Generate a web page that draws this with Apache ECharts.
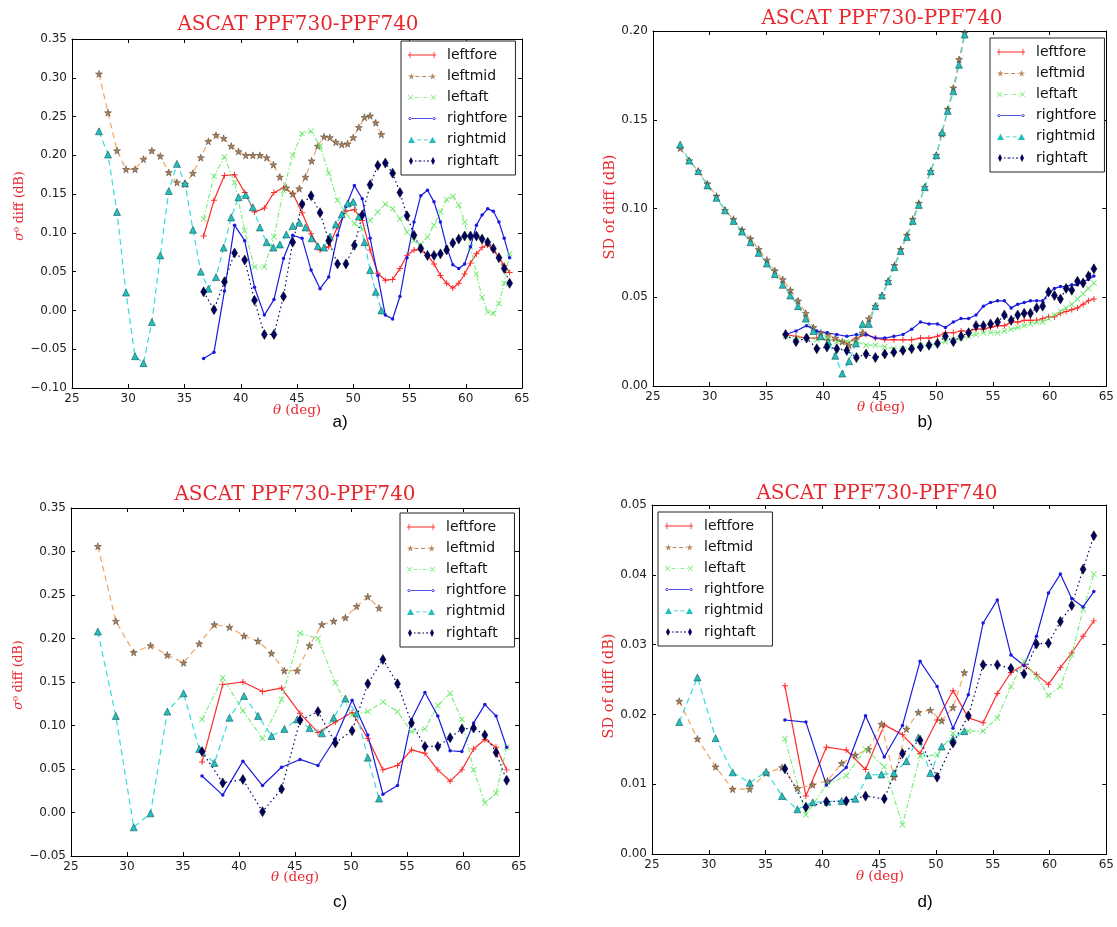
<!DOCTYPE html>
<html><head><meta charset="utf-8">
<script src="https://cdn.jsdelivr.net/npm/echarts@6/dist/echarts.min.js"></script>
<style>html,body{margin:0;padding:0;background:#fff}#c{width:1117px;height:927px}</style>
</head><body><div id="c"></div>
<script>
// ---- incidence-angle grids (deg) ----
const midX41 = [27.4, 28.2, 29.0, 29.8, 30.6, 31.35, 32.1, 32.85, 33.6, 34.33, 35.05, 35.75, 36.45, 37.12, 37.8, 38.48, 39.15, 39.8, 40.45, 41.08, 41.7, 42.3, 42.9, 43.48, 44.05, 44.62, 45.2, 45.75, 46.3, 46.85, 47.4, 47.92, 48.45, 48.98, 49.5, 50.0, 50.5, 51.0, 51.5, 52.0, 52.5];
const foreX41 = [36.7, 37.62, 38.55, 39.45, 40.35, 41.22, 42.1, 42.95, 43.8, 44.62, 45.45, 46.25, 47.05, 47.82, 48.6, 49.35, 50.1, 50.8, 51.5, 52.18, 52.85, 53.5, 54.15, 54.78, 55.4, 56.0, 56.6, 57.18, 57.75, 58.3, 58.85, 59.38, 59.9, 60.42, 60.95, 61.45, 61.95, 62.45, 62.95, 63.42, 63.9];
const midX21 = [27.4, 29.0, 30.6, 32.1, 33.6, 35.05, 36.45, 37.8, 39.15, 40.45, 41.7, 42.9, 44.05, 45.2, 46.3, 47.4, 48.45, 49.5, 50.5, 51.5, 52.5];
const foreX21 = [36.7, 38.55, 40.35, 42.1, 43.8, 45.45, 47.05, 48.6, 50.1, 51.5, 52.85, 54.15, 55.4, 56.6, 57.75, 58.85, 59.9, 60.95, 61.95, 62.95, 63.9];

// ---- panel a : sigma0 diff ----
const a_leftfore = [0.096, 0.142, 0.174, 0.175, 0.152, 0.127, 0.132, 0.152, 0.158, 0.151, 0.126, 0.099, 0.078, 0.082, 0.108, 0.128, 0.130, 0.116, 0.078, 0.048, 0.039, 0.040, 0.054, 0.071, 0.078, 0.078, 0.071, 0.060, 0.045, 0.035, 0.029, 0.035, 0.047, 0.061, 0.073, 0.081, 0.085, 0.078, 0.068, 0.058, 0.049];
const a_leftmid = [0.305, 0.255, 0.206, 0.182, 0.182, 0.195, 0.206, 0.199, 0.178, 0.165, 0.163, 0.177, 0.197, 0.218, 0.226, 0.222, 0.212, 0.205, 0.200, 0.200, 0.200, 0.197, 0.188, 0.172, 0.158, 0.150, 0.157, 0.172, 0.193, 0.212, 0.224, 0.223, 0.217, 0.214, 0.215, 0.223, 0.236, 0.249, 0.251, 0.242, 0.227];
const a_leftaft = [0.118, 0.173, 0.198, 0.165, 0.103, 0.056, 0.056, 0.095, 0.155, 0.200, 0.228, 0.231, 0.212, 0.177, 0.142, 0.125, 0.112, 0.105, 0.116, 0.127, 0.137, 0.131, 0.118, 0.101, 0.090, 0.085, 0.095, 0.110, 0.127, 0.143, 0.147, 0.136, 0.114, 0.082, 0.047, 0.017, -0.002, -0.004, 0.009, 0.035, 0.073];
const a_rightfore = [-0.062, -0.054, 0.025, 0.110, 0.090, 0.030, -0.006, 0.014, 0.067, 0.097, 0.093, 0.052, 0.028, 0.043, 0.097, 0.134, 0.161, 0.144, 0.093, 0.045, -0.006, -0.011, 0.018, 0.068, 0.114, 0.148, 0.155, 0.140, 0.114, 0.082, 0.059, 0.054, 0.060, 0.082, 0.110, 0.123, 0.131, 0.128, 0.114, 0.093, 0.068];
const a_rightmid = [0.231, 0.201, 0.127, 0.023, -0.059, -0.068, -0.015, 0.071, 0.154, 0.189, 0.164, 0.104, 0.050, 0.028, 0.043, 0.081, 0.120, 0.146, 0.149, 0.133, 0.107, 0.088, 0.081, 0.085, 0.098, 0.109, 0.113, 0.107, 0.093, 0.083, 0.081, 0.095, 0.111, 0.124, 0.138, 0.140, 0.121, 0.088, 0.052, 0.024, 0.000];
const a_rightaft = [0.024, 0.001, 0.037, 0.074, 0.065, 0.013, -0.031, -0.031, 0.018, 0.088, 0.137, 0.148, 0.126, 0.090, 0.060, 0.060, 0.084, 0.123, 0.162, 0.187, 0.190, 0.177, 0.152, 0.122, 0.097, 0.080, 0.071, 0.071, 0.073, 0.078, 0.087, 0.092, 0.096, 0.096, 0.096, 0.092, 0.088, 0.080, 0.068, 0.054, 0.035];

// ---- panel b : SD of diff ----
const b_leftfore = [0.029, 0.028, 0.027, 0.027, 0.026, 0.026, 0.024, 0.027, 0.029, 0.027, 0.026, 0.026, 0.026, 0.026, 0.027, 0.027, 0.028, 0.030, 0.030, 0.031, 0.031, 0.032, 0.032, 0.033, 0.034, 0.034, 0.036, 0.036, 0.037, 0.037, 0.037, 0.038, 0.039, 0.039, 0.041, 0.042, 0.043, 0.044, 0.046, 0.048, 0.049];
const b_leftmid = [0.134, 0.127, 0.121, 0.114, 0.107, 0.099, 0.094, 0.088, 0.083, 0.077, 0.071, 0.065, 0.060, 0.054, 0.048, 0.041, 0.033, 0.030, 0.029, 0.027, 0.025, 0.023, 0.026, 0.030, 0.038, 0.045, 0.051, 0.059, 0.068, 0.077, 0.085, 0.094, 0.103, 0.112, 0.121, 0.130, 0.142, 0.156, 0.168, 0.184, 0.199];
const b_leftaft = [0.028, 0.027, 0.027, 0.026, 0.027, 0.025, 0.025, 0.025, 0.023, 0.023, 0.022, 0.021, 0.021, 0.022, 0.023, 0.023, 0.024, 0.025, 0.026, 0.027, 0.028, 0.029, 0.030, 0.030, 0.030, 0.031, 0.032, 0.033, 0.034, 0.035, 0.036, 0.036, 0.038, 0.040, 0.042, 0.044, 0.046, 0.049, 0.052, 0.055, 0.058];
const b_rightfore = [0.029, 0.031, 0.034, 0.031, 0.030, 0.029, 0.028, 0.029, 0.029, 0.027, 0.027, 0.028, 0.029, 0.032, 0.036, 0.035, 0.035, 0.033, 0.036, 0.038, 0.038, 0.040, 0.045, 0.047, 0.048, 0.048, 0.044, 0.046, 0.047, 0.048, 0.048, 0.048, 0.052, 0.055, 0.056, 0.056, 0.057, 0.057, 0.059, 0.060, 0.062];
const b_rightmid = [0.136, 0.127, 0.121, 0.113, 0.106, 0.099, 0.093, 0.087, 0.081, 0.075, 0.069, 0.063, 0.057, 0.051, 0.045, 0.038, 0.031, 0.028, 0.025, 0.017, 0.007, 0.014, 0.024, 0.035, 0.035, 0.045, 0.051, 0.059, 0.067, 0.076, 0.084, 0.093, 0.102, 0.112, 0.121, 0.130, 0.143, 0.155, 0.166, 0.181, 0.198];
const b_rightaft = [0.029, 0.025, 0.027, 0.021, 0.022, 0.021, 0.020, 0.016, 0.018, 0.016, 0.018, 0.019, 0.020, 0.021, 0.022, 0.023, 0.024, 0.028, 0.025, 0.028, 0.030, 0.034, 0.034, 0.035, 0.036, 0.040, 0.037, 0.040, 0.041, 0.041, 0.044, 0.045, 0.053, 0.051, 0.049, 0.055, 0.054, 0.059, 0.058, 0.062, 0.066];

// ---- panel c : sigma0 diff (coarse grid) ----
const c_leftfore = [0.058, 0.147, 0.150, 0.139, 0.143, 0.114, 0.092, 0.104, 0.115, 0.085, 0.049, 0.054, 0.072, 0.068, 0.049, 0.036, 0.049, 0.073, 0.084, 0.075, 0.049];
const c_leftmid = [0.306, 0.220, 0.184, 0.192, 0.181, 0.172, 0.194, 0.216, 0.213, 0.203, 0.197, 0.183, 0.163, 0.163, 0.192, 0.216, 0.220, 0.224, 0.237, 0.248, 0.235];
const c_leftaft = [0.107, 0.155, 0.117, 0.085, 0.130, 0.206, 0.200, 0.149, 0.112, 0.116, 0.127, 0.116, 0.093, 0.096, 0.123, 0.137, 0.107, 0.049, 0.011, 0.022, 0.075];
const c_rightfore = [0.042, 0.020, 0.059, 0.031, 0.052, 0.061, 0.054, 0.085, 0.129, 0.089, 0.021, 0.031, 0.107, 0.138, 0.111, 0.071, 0.070, 0.103, 0.124, 0.111, 0.075];
const c_rightmid = [0.208, 0.111, -0.017, -0.001, 0.116, 0.137, 0.073, 0.057, 0.109, 0.134, 0.111, 0.088, 0.096, 0.107, 0.097, 0.091, 0.109, 0.131, 0.114, 0.063, 0.016];
const c_rightaft = [0.070, 0.034, 0.038, 0.001, 0.027, 0.106, 0.116, 0.080, 0.094, 0.148, 0.176, 0.148, 0.103, 0.076, 0.076, 0.086, 0.096, 0.097, 0.089, 0.069, 0.037];

// ---- panel d : SD of diff (coarse grid) ----
const d_leftfore = [0.0241, 0.0083, 0.0153, 0.0149, 0.0121, 0.0185, 0.0171, 0.0144, 0.0192, 0.0234, 0.0195, 0.0188, 0.0230, 0.0260, 0.0271, 0.0257, 0.0243, 0.0267, 0.0288, 0.0312, 0.0334];
const d_leftmid = [0.0219, 0.0165, 0.0125, 0.0093, 0.0093, 0.0116, 0.0124, 0.0094, 0.0099, 0.0105, 0.0130, 0.0142, 0.0150, 0.0186, 0.0110, 0.0179, 0.0203, 0.0206, 0.0191, 0.0210, 0.0260];
const d_leftaft = [0.0165, 0.0056, 0.0099, 0.0112, 0.0150, 0.0125, 0.0042, 0.0140, 0.0142, 0.0173, 0.0176, 0.0176, 0.0195, 0.0240, 0.0276, 0.0254, 0.0227, 0.0240, 0.0285, 0.0350, 0.0401];
const d_rightfore = [0.0192, 0.0189, 0.0099, 0.0124, 0.0198, 0.0139, 0.0184, 0.0276, 0.0240, 0.0180, 0.0228, 0.0331, 0.0364, 0.0285, 0.0270, 0.0312, 0.0374, 0.0401, 0.0366, 0.0354, 0.0376];
const d_rightmid = [0.0189, 0.0253, 0.0166, 0.0117, 0.0102, 0.0118, 0.0083, 0.0064, 0.0074, 0.0075, 0.0076, 0.0079, 0.0113, 0.0114, 0.0116, 0.0133, 0.0167, 0.0116, 0.0154, 0.0165, 0.0176];
const d_rightaft = [0.0122, 0.0067, 0.0075, 0.0076, 0.0083, 0.0079, 0.0144, 0.0163, 0.0110, 0.0159, 0.0198, 0.0271, 0.0271, 0.0266, 0.0258, 0.0301, 0.0302, 0.0333, 0.0356, 0.0408, 0.0456];

const seriesNames = ['leftfore', 'leftmid', 'leftaft', 'rightfore', 'rightmid', 'rightaft'];
const titleText = 'ASCAT PPF730-PPF740';
const xTicks = {min: 25, max: 65, interval: 5};
const yTicks = [
  {min: -0.10, max: 0.35, interval: 0.05},
  {min: 0, max: 0.20, interval: 0.05},
  {min: -0.05, max: 0.35, interval: 0.05},
  {min: 0, max: 0.05, interval: 0.01}
];
const yNames = ['{i|\u03c3}\u2070 diff (dB)', 'SD of diff (dB)', '{i|\u03c3}\u2070 diff (dB)', 'SD of diff (dB)'];
const xName = '{i|\u03b8} (deg)';
const captions = ['a)', 'b)', 'c)', 'd)'];

const panels = [
  {mid: midX41, fore: foreX41, v: [a_leftfore, a_leftmid, a_leftaft, a_rightfore, a_rightmid, a_rightaft]},
  {mid: midX41, fore: foreX41, v: [b_leftfore, b_leftmid, b_leftaft, b_rightfore, b_rightmid, b_rightaft]},
  {mid: midX21, fore: foreX21, v: [c_leftfore, c_leftmid, c_leftaft, c_rightfore, c_rightmid, c_rightaft]},
  {mid: midX21, fore: foreX21, v: [d_leftfore, d_leftmid, d_leftaft, d_rightfore, d_rightmid, d_rightaft]}
];

// ---- layout / style ----
const grids = [
  {left: 72, top: 39, width: 450, height: 349},
  {left: 653, top: 31, width: 455, height: 355},
  {left: 71, top: 508, width: 448, height: 348},
  {left: 652, top: 505, width: 455, height: 349}
];
const legendPos = [{left: 401, top: 41}, {left: 990, top: 38}, {left: 400, top: 513}, {left: 658, top: 512}];
const titlePos = [[298, 25], [882, 19], [295, 495], [877, 494]];
const yNamePos = [[20, 206], [610, 207], [19, 675], [609, 686]];
const yNameSize = [12.5, 14.5, 12.5, 14.5];
const xNamePos = [[297, 410], [881, 407], [295, 877], [880, 876]];
const capPos = [[340, 422], [925, 422], [340, 902], [925, 902]];

const RED = '#e8262c';
const starPath = 'path://M50,0L61,35L98,35L68,57L79,91L50,70L21,91L32,57L2,35L39,35Z';
const plusPath = 'path://M4.2,0H5.8V4.2H10V5.8H5.8V10H4.2V5.8H0V4.2H4.2Z';
const xPath = 'path://M1,0L5,4L9,0L10,1L6,5L10,9L9,10L5,6L1,10L0,9L4,5L0,1Z';
const styles = {
  leftfore: {symbol: plusPath, symbolSize: 6, lineStyle: {color: '#ff2a2a', width: 1.2}, itemStyle: {color: '#ff2a2a'}},
  leftmid: {symbol: starPath, symbolSize: 7, lineStyle: {color: '#f4a460', width: 1.2, type: [6, 4]}, itemStyle: {color: '#a8825e', borderColor: '#4a3a2a', borderWidth: 0.5}},
  leftaft: {symbol: xPath, symbolSize: 6, lineStyle: {color: '#7df07d', width: 1.2, type: [5, 2, 1.5, 2]}, itemStyle: {color: '#6fe86f'}},
  rightfore: {symbol: 'circle', symbolSize: 3.5, lineStyle: {color: '#1a1adf', width: 1.2}, itemStyle: {color: '#1a1adf'}},
  rightmid: {symbol: 'triangle', symbolSize: 7, lineStyle: {color: '#33dddd', width: 1.2, type: [6, 4]}, itemStyle: {color: '#20c0c0', borderColor: '#0b3a3a', borderWidth: 0.5}},
  rightaft: {symbol: 'diamond', symbolSize: [6, 10], lineStyle: {color: '#000070', width: 1.2, type: [1.5, 3]}, itemStyle: {color: '#000060', borderColor: '#000', borderWidth: 0.5}}
};
// legend keys: marker - line - marker, drawn in a 28x8 box
const legendIcons = {
  leftfore: 'path://M0,3.6H28V4.4H0Z M1.6,0.8H2.4V7.2H1.6Z M25.6,0.8H26.4V7.2H25.6Z',
  leftmid: 'path://M3.5,0.5L4.29,2.92L6.83,2.92L4.77,4.41L5.56,6.83L3.5,5.34L1.44,6.83L2.23,4.41L0.17,2.92L2.71,2.92Z M24.5,0.5L25.29,2.92L27.83,2.92L25.77,4.41L26.56,6.83L24.5,5.34L22.44,6.83L23.23,4.41L21.17,2.92L23.71,2.92Z M7.5,3.55H11.5V4.45H7.5Z M14,3.55H18V4.45H14Z M20.5,3.55H21.5V4.45H20.5Z',
  leftaft: 'path://M1,1.5L3,3.5L5,1.5L5.5,2L3.5,4L5.5,6L5,6.5L3,4.5L1,6.5L0.5,6L2.5,4L0.5,2Z M23,1.5L25,3.5L27,1.5L27.5,2L25.5,4L27.5,6L27,6.5L25,4.5L23,6.5L22.5,6L24.5,4L22.5,2Z M7,3.6H10.5V4.4H7Z M12.5,3.6H13.5V4.4H12.5Z M15.5,3.6H19V4.4H15.5Z M21,3.6H22V4.4H21Z',
  rightfore: 'path://M0,3.6H28V4.4H0Z M0.6,4A1.4,1.4 0 1,0 3.4,4A1.4,1.4 0 1,0 0.6,4Z M24.6,4A1.4,1.4 0 1,0 27.4,4A1.4,1.4 0 1,0 24.6,4Z',
  rightmid: 'path://M3.5,0.8L7,7L0,7Z M24.5,0.8L28,7L21,7Z M9,3.55H13V4.45H9Z M15.5,3.55H19.5V4.45H15.5Z',
  rightaft: 'path://M3,0L5,4L3,8L1,4Z M25,0L27,4L25,8L23,4Z M7,3.55H8.5V4.45H7Z M10.5,3.55H13.5V4.45H10.5Z M15.5,3.55H17V4.45H15.5Z M19,3.55H21V4.45H19Z'
};
const legendColors = {leftfore: '#ff2a2a', leftmid: '#b88a60', leftaft: '#6fe86f', rightfore: '#1a1adf', rightmid: '#20c0c0', rightaft: '#000060'};

function yFmt(v) {
  if (Math.abs(v) < 1e-9) return '0.00';
  return (v < 0 ? '\u2212' : '') + Math.abs(v).toFixed(2);
}
const tickFont = {fontFamily: 'DejaVu Sans', fontSize: 12, color: '#222'};
function axisCommon() {
  return {
    axisLine: {show: true, onZero: false, lineStyle: {color: '#000', width: 1}},
    axisTick: {show: true, inside: true, length: 4, lineStyle: {color: '#000'}},
    splitLine: {show: false}
  };
}

const xAxes = [], yAxes = [], series = [], legends = [], graphics = [];
grids.forEach((g, gi) => {
  xAxes.push(Object.assign({type: 'value', gridIndex: gi, position: 'bottom', min: xTicks.min, max: xTicks.max, interval: xTicks.interval,
    axisLabel: Object.assign({margin: 5}, tickFont)}, axisCommon()));
  xAxes.push(Object.assign({type: 'value', gridIndex: gi, position: 'top', min: xTicks.min, max: xTicks.max, interval: xTicks.interval,
    axisLabel: {show: false}}, axisCommon()));
  const yt = yTicks[gi];
  yAxes.push(Object.assign({type: 'value', gridIndex: gi, position: 'left', min: yt.min, max: yt.max, interval: yt.interval,
    axisLabel: Object.assign({margin: 5, formatter: yFmt}, tickFont)}, axisCommon()));
  yAxes.push(Object.assign({type: 'value', gridIndex: gi, position: 'right', min: yt.min, max: yt.max, interval: yt.interval,
    axisLabel: {show: false}}, axisCommon()));

  const p = panels[gi];
  seriesNames.forEach((nm, si) => {
    const xs = (si === 1 || si === 4) ? p.mid : p.fore;
    const ys = p.v[si];
    series.push(Object.assign({
      type: 'line', name: nm, xAxisIndex: 2 * gi, yAxisIndex: 2 * gi,
      data: xs.map((x, i) => [x, ys[i]]), showSymbol: true, animation: false, clip: true,
      emphasis: {disabled: true}
    }, styles[nm]));
  });

  legends.push({
    orient: 'vertical', left: legendPos[gi].left, top: legendPos[gi].top,
    data: seriesNames.map(n => ({name: n, icon: legendIcons[n], itemStyle: {color: legendColors[n], borderWidth: 0}})),
    itemWidth: 28, itemHeight: 8, itemGap: 7.2, selectedMode: false, symbolKeepAspect: true,
    borderColor: '#222', borderWidth: 1, backgroundColor: '#fff', padding: [7, 8, 7, 7],
    textStyle: {fontFamily: 'DejaVu Sans', fontSize: 14, color: '#111', padding: [0, 0, 0, 6], lineHeight: 14}
  });

  graphics.push({type: 'text', x: titlePos[gi][0], y: titlePos[gi][1],
    style: {text: titleText, fill: RED, font: '20px "DejaVu Serif"', textAlign: 'center', textVerticalAlign: 'middle'}});
  graphics.push({type: 'text', x: yNamePos[gi][0], y: yNamePos[gi][1], rotation: Math.PI / 2,
    style: {text: yNames[gi], fill: RED, fontFamily: 'DejaVu Serif', fontSize: yNameSize[gi], align: 'center', verticalAlign: 'middle',
      rich: {i: {fill: RED, fontFamily: 'DejaVu Serif', fontSize: yNameSize[gi], fontStyle: 'italic'}}}});
  graphics.push({type: 'text', x: xNamePos[gi][0], y: xNamePos[gi][1],
    style: {text: xName, fill: RED, fontFamily: 'DejaVu Serif', fontSize: 13.5, align: 'center', verticalAlign: 'middle',
      rich: {i: {fill: RED, fontFamily: 'DejaVu Serif', fontSize: 13.5, fontStyle: 'italic'}}}});
  graphics.push({type: 'text', x: capPos[gi][0], y: capPos[gi][1],
    style: {text: captions[gi], fill: '#000', font: '17px "Liberation Sans"', textAlign: 'center', textVerticalAlign: 'middle'}});
});

const chart = echarts.init(document.getElementById('c'), null, {renderer: 'canvas'});
chart.setOption({
  animation: false,
  backgroundColor: '#fff',
  grid: grids.map(g => Object.assign({containLabel: false, show: false}, g)),
  xAxis: xAxes, yAxis: yAxes, series: series, legend: legends, graphic: graphics
});
</script></body></html>
